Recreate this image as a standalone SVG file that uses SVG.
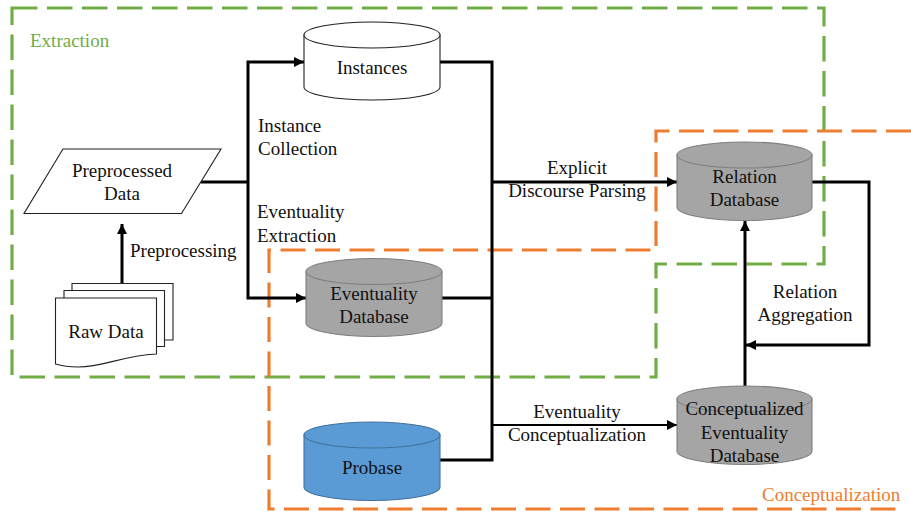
<svg xmlns="http://www.w3.org/2000/svg" width="911" height="512" viewBox="0 0 911 512">
<style>
text{font-family:"Liberation Serif","Times New Roman",serif;font-size:19px;fill:#111;text-anchor:middle}
.l{text-anchor:start}
.c{fill:none;stroke:#000;stroke-width:3}
.t{stroke-width:2}
.s{fill:#fff;stroke:#222;stroke-width:1.1}
.gray{fill:#a5a5a5;stroke:#7f7f7f;stroke-width:1.1}
.blue{fill:#5b9bd5;stroke:#41719c;stroke-width:1.1}
.wh{fill:#fff;stroke:#222;stroke-width:1.1}
</style>
<defs>
<marker id="a" markerUnits="userSpaceOnUse" markerWidth="12" markerHeight="12" refX="10" refY="5" orient="auto"><path d="M0 0L10 5L0 10z" fill="#000"/></marker>
</defs>
<g id="regions" fill="none" stroke-width="3.2">
<path d="M12 8H824V264H656V377H12Z" stroke="#70ad47" stroke-dasharray="25.5 9.5"/>
<path d="M911 131H656V250H269V509H903" stroke="#ed7d31" stroke-dasharray="25 9.5"/>
<text x="30" y="47" class="l" style="fill:#70ad47" stroke="none">Extraction</text>
<text x="762" y="501" class="l" style="fill:#ed7d31" stroke="none">Conceptualization</text>
</g>
<g id="connectors">
<path class="c" d="M122 283V224" marker-end="url(#a)" stroke-width="3"/>
<path class="c" d="M201 182H248"/>
<path class="c" d="M248 182V62H304" marker-end="url(#a)"/>
<path class="c" d="M248 182V298H306" marker-end="url(#a)"/>
<path class="c" d="M440 62H492V460H440"/>
<path class="c" d="M442 298H492"/>
<path class="c" d="M492 182H677" marker-end="url(#a)"/>
<path class="c t" d="M492 425H677" marker-end="url(#a)"/>
<path class="c" d="M812 182H869V345H746" marker-end="url(#a)"/>
<path class="c" d="M745 386V221" marker-end="url(#a)"/>
</g>
<g id="raw-data">
<path class="s" d="M72 283.500H173V340H72Z"/>
<path class="s" d="M64 290.500H164.500V346.500H64Z"/>
<path class="s" d="M55.500 298H156.500V354C120 356 105 367 78 367C68 367 62 366 55.500 364Z"/>
<text x="106" y="338">Raw Data</text>
</g>
<g id="preprocessed-data">
<path class="s" d="M63 149H221L181.500 213.500H24Z"/>
<text x="122" y="177">Preprocessed</text>
<text x="122" y="200">Data</text>
</g>
<g id="instances">
<path class="wh" d="M304 35V87A68 13 0 0 0 440 87V35Z"/>
<ellipse class="wh" cx="372" cy="35" rx="68" ry="13"/>
<text x="372" y="74">Instances</text>
</g>
<g id="eventuality-database">
<path class="gray" d="M306 272V323A68 13.500 0 0 0 442 323V272Z"/>
<ellipse class="gray" cx="374" cy="271.500" rx="68" ry="13"/>
<text x="374" y="300">Eventuality</text>
<text x="374" y="323">Database</text>
</g>
<g id="probase">
<path class="blue" d="M304 435V487A68 13.500 0 0 0 440 487V435Z"/>
<ellipse class="blue" cx="372" cy="435" rx="68" ry="13"/>
<text x="372" y="474">Probase</text>
</g>
<g id="relation-database">
<path class="gray" d="M677 155V207A67.500 13.500 0 0 0 812 207V155Z"/>
<ellipse class="gray" cx="744.500" cy="155" rx="67.500" ry="13"/>
<text x="744.500" y="183">Relation</text>
<text x="744.500" y="206">Database</text>
</g>
<g id="conceptualized-eventuality-database">
<path class="gray" d="M677 399V451A67.500 13.500 0 0 0 812 451V399Z"/>
<ellipse class="gray" cx="744.500" cy="399" rx="67.500" ry="13"/>
<text x="744.500" y="415">Conceptualized</text>
<text x="744.500" y="439">Eventuality</text>
<text x="744.500" y="462">Database</text>
</g>
<g id="labels">
<text x="130" y="257" class="l">Preprocessing</text>
<text x="258" y="132" class="l">Instance</text>
<text x="258" y="155" class="l">Collection</text>
<text x="257" y="218" class="l">Eventuality</text>
<text x="257" y="242" class="l">Extraction</text>
<text x="577" y="174">Explicit</text>
<text x="577" y="197">Discourse Parsing</text>
<text x="577" y="418">Eventuality</text>
<text x="577" y="441">Conceptualization</text>
<text x="805" y="298">Relation</text>
<text x="805" y="321">Aggregation</text>
</g>
</svg>
